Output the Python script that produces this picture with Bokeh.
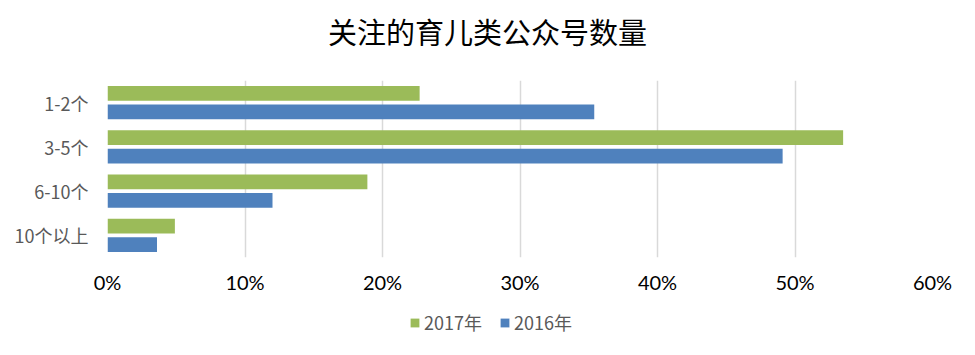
from bokeh.plotting import figure
from bokeh.layouts import column
from bokeh.models import (FactorRange, Range1d, FixedTicker, NumeralTickFormatter, Legend,
                          LegendItem, ColumnDataSource, Label)
from bokeh.transform import dodge
from bokeh.embed import file_html
from bokeh.resources import INLINE

title_text = "关注的育儿类公众号数量"
categories = ["1-2个", "3-5个", "6-10个", "10个以上"]
series_names = ["2017年", "2016年"]
values_2017 = [0.227, 0.535, 0.189, 0.049]
values_2016 = [0.354, 0.491, 0.120, 0.036]
x_ticks = [0, 0.1, 0.2, 0.3, 0.4, 0.5, 0.6]

colors = ["#9BBB59", "#4F81BD"]

BL, BR = 107, 43


def strip(height, y_range):
    f = figure(width=975, height=height, output_backend="svg", toolbar_location=None,
               x_range=Range1d(0, 1), y_range=y_range, title=None,
               x_axis_type=None, y_axis_type=None,
               min_border_left=BL, min_border_right=BR, min_border_top=0, min_border_bottom=0)
    f.grid.visible = False
    f.outline_line_color = None
    return f


src = ColumnDataSource(dict(cat=categories, v2017=values_2017, v2016=values_2016))

# title strip
tf = strip(80, Range1d(0, 1))
tf.add_layout(Label(x=487 - BL, y=50, x_units="screen", y_units="screen", text=title_text,
                    text_align="center", text_baseline="middle", text_font="Noto Sans CJK SC",
                    text_font_size="29px", text_color="#000000"))

# main chart
p = figure(width=975, height=225, output_backend="svg", toolbar_location=None, title=None,
           y_range=FactorRange(factors=list(reversed(categories)), range_padding=0),
           x_range=Range1d(0, 0.6),
           min_border_left=BL, min_border_right=BR, min_border_top=0, min_border_bottom=48)

r1 = p.hbar(y=dodge("cat", 0.21, range=p.y_range), right="v2017", left=0, height=0.33,
            source=src, color=colors[0], line_color=None)
r2 = p.hbar(y=dodge("cat", -0.21, range=p.y_range), right="v2016", left=0, height=0.33,
            source=src, color=colors[1], line_color=None)

p.outline_line_color = None
p.ygrid.grid_line_color = None
p.xgrid.grid_line_color = "#D9D9D9"
p.xgrid.grid_line_width = 1.5
p.xaxis.ticker = FixedTicker(ticks=x_ticks)
p.xaxis.formatter = NumeralTickFormatter(format="0%")
for ax in (p.xaxis, p.yaxis):
    ax.axis_line_color = None
    ax.major_tick_line_color = None
    ax.minor_tick_line_color = None

p.xaxis.major_label_text_font = "Lato"
p.xaxis.major_label_text_font_size = "20px"
p.xaxis.major_label_text_color = "#000000"
p.xaxis.major_label_standoff = 6
p.yaxis.major_label_text_font = "Noto Sans CJK SC"
p.yaxis.major_label_text_font_size = "18px"
p.yaxis.major_label_text_color = "#595959"
p.yaxis.major_label_standoff = 13

# legend strip below the chart (zero-height proxy bars carry the legend swatches)
lg = strip(50, FactorRange(factors=list(reversed(categories)), range_padding=0))
g1 = lg.hbar(y="cat", right="v2017", left=0, height=0, source=src,
             color=colors[0], line_color=None)
g2 = lg.hbar(y="cat", right="v2016", left=0, height=0, source=src,
             color=colors[1], line_color=None)

legend = Legend(items=[LegendItem(label=series_names[0], renderers=[g1]),
                       LegendItem(label=series_names[1], renderers=[g2])],
                orientation="horizontal", location=(409 - BL, 20),
                border_line_color=None, background_fill_alpha=0,
                label_text_font="Noto Sans CJK SC", label_text_font_size="18px",
                label_text_color="#595959", glyph_width=11, glyph_height=11,
                spacing=17, label_standoff=4, margin=0, padding=0)
lg.add_layout(legend)

open("out.html", "w").write(file_html(column(tf, p, lg), INLINE))
